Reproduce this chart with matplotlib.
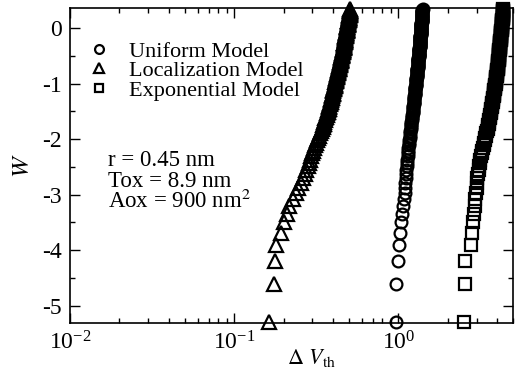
import matplotlib
matplotlib.use("Agg")
import matplotlib.pyplot as plt
import numpy as np
from matplotlib.ticker import MultipleLocator, LogLocator

plt.rcParams['font.family'] = ['Liberation Serif', 'DejaVu Serif']
plt.rcParams['mathtext.fontset'] = 'stix'
plt.rcParams['axes.unicode_minus'] = False

# Weibull plot of threshold voltage shift, 200 samples per model
n_samples = 200
rank = np.arange(1, 153)
F = rank / (n_samples + 1)
W = np.log(-np.log(1 - F))

# Delta Vth for each rank
dvth_uniform = [
    0.975, 0.972, 0.996, 1.004, 1.018, 1.033, 1.053, 1.068, 1.083, 1.092,
    1.097, 1.103, 1.108, 1.113, 1.119, 1.124, 1.129, 1.134, 1.140, 1.145,
    1.150, 1.154, 1.159, 1.163, 1.168, 1.172, 1.177, 1.181, 1.186, 1.190,
    1.194, 1.197, 1.201, 1.204, 1.208, 1.212, 1.215, 1.219, 1.222, 1.226,
    1.229, 1.232, 1.234, 1.237, 1.240, 1.243, 1.246, 1.248, 1.251, 1.254,
    1.256, 1.258, 1.261, 1.263, 1.265, 1.267, 1.269, 1.272, 1.274, 1.276,
    1.278, 1.280, 1.282, 1.284, 1.287, 1.289, 1.291, 1.293, 1.295, 1.297,
    1.299, 1.300, 1.302, 1.304, 1.306, 1.307, 1.309, 1.311, 1.312, 1.314,
    1.316, 1.317, 1.319, 1.320, 1.322, 1.324, 1.325, 1.327, 1.328, 1.330,
    1.332, 1.333, 1.335, 1.336, 1.338, 1.339, 1.341, 1.342, 1.344, 1.345,
    1.346, 1.348, 1.349, 1.350, 1.352, 1.353, 1.354, 1.355, 1.357, 1.358,
    1.359, 1.360, 1.362, 1.363, 1.364, 1.365, 1.366, 1.368, 1.369, 1.370,
    1.371, 1.372, 1.373, 1.374, 1.376, 1.377, 1.378, 1.379, 1.380, 1.381,
    1.382, 1.383, 1.384, 1.385, 1.387, 1.388, 1.389, 1.390, 1.391, 1.392,
    1.393, 1.394, 1.396, 1.397, 1.398, 1.399, 1.400, 1.401, 1.403, 1.404,
    1.405, 1.406,
]
dvth_local = [
    0.163, 0.175, 0.178, 0.180, 0.194, 0.202, 0.211, 0.217, 0.229, 0.237,
    0.246, 0.255, 0.262, 0.270, 0.275, 0.281, 0.286, 0.290, 0.295, 0.299,
    0.304, 0.308, 0.313, 0.317, 0.322, 0.326, 0.331, 0.335, 0.340, 0.344,
    0.347, 0.350, 0.352, 0.355, 0.358, 0.360, 0.363, 0.366, 0.368, 0.371,
    0.373, 0.376, 0.378, 0.380, 0.382, 0.384, 0.387, 0.389, 0.391, 0.393,
    0.395, 0.397, 0.398, 0.400, 0.402, 0.403, 0.405, 0.407, 0.408, 0.410,
    0.412, 0.413, 0.414, 0.416, 0.417, 0.419, 0.420, 0.422, 0.423, 0.425,
    0.426, 0.427, 0.429, 0.430, 0.432, 0.433, 0.434, 0.436, 0.437, 0.438,
    0.440, 0.441, 0.442, 0.443, 0.445, 0.446, 0.447, 0.448, 0.450, 0.451,
    0.452, 0.453, 0.455, 0.456, 0.457, 0.458, 0.459, 0.461, 0.462, 0.463,
    0.464, 0.465, 0.466, 0.467, 0.468, 0.468, 0.469, 0.470, 0.471, 0.472,
    0.473, 0.474, 0.475, 0.476, 0.477, 0.477, 0.478, 0.479, 0.480, 0.481,
    0.482, 0.483, 0.484, 0.485, 0.486, 0.487, 0.487, 0.488, 0.489, 0.490,
    0.491, 0.492, 0.493, 0.494, 0.495, 0.496, 0.497, 0.498, 0.499, 0.500,
    0.501, 0.502, 0.503, 0.504, 0.505, 0.506, 0.507, 0.508, 0.508, 0.509,
    0.510, 0.511,
]
dvth_expo = [
    2.52, 2.54, 2.56, 2.76, 2.81, 2.85, 2.90, 2.92, 2.95, 2.98,
    3.00, 3.02, 3.04, 3.07, 3.09, 3.11, 3.13, 3.16, 3.20, 3.23,
    3.26, 3.28, 3.31, 3.34, 3.37, 3.39, 3.42, 3.45, 3.48, 3.50,
    3.52, 3.53, 3.55, 3.57, 3.59, 3.60, 3.62, 3.64, 3.65, 3.67,
    3.68, 3.70, 3.71, 3.72, 3.74, 3.75, 3.76, 3.77, 3.79, 3.80,
    3.81, 3.82, 3.83, 3.84, 3.85, 3.86, 3.87, 3.88, 3.89, 3.90,
    3.91, 3.92, 3.92, 3.93, 3.94, 3.95, 3.96, 3.96, 3.97, 3.98,
    3.99, 4.00, 4.00, 4.01, 4.02, 4.03, 4.04, 4.04, 4.05, 4.06,
    4.06, 4.07, 4.07, 4.08, 4.08, 4.09, 4.09, 4.10, 4.10, 4.11,
    4.11, 4.12, 4.12, 4.13, 4.13, 4.13, 4.14, 4.14, 4.15, 4.15,
    4.15, 4.16, 4.16, 4.17, 4.17, 4.17, 4.18, 4.18, 4.19, 4.19,
    4.20, 4.20, 4.21, 4.21, 4.22, 4.22, 4.23, 4.23, 4.24, 4.24,
    4.24, 4.25, 4.25, 4.26, 4.26, 4.26, 4.27, 4.27, 4.28, 4.28,
    4.28, 4.29, 4.29, 4.30, 4.30, 4.30, 4.31, 4.31, 4.32, 4.32,
    4.32, 4.33, 4.33, 4.34, 4.34, 4.34, 4.35, 4.35, 4.36, 4.36,
    4.37, 4.37,
]

labels = ["Uniform Model", "Localization Model", "Exponential Model"]
info_lines = ["r = 0.45 nm", "Tox = 8.9 nm", "Aox = 900 nm$^2$"]

fig = plt.figure(figsize=(5.15, 3.7), dpi=100)
ax = fig.add_axes([0.136, 0.127, 0.860, 0.851])

ax.plot(dvth_uniform, W, ls='none', marker='o', ms=8.5, mfc='none', mec='k',
        mew=1.6, clip_on=False, label=labels[0])
ax.plot(dvth_local, W, ls='none', marker='^', ms=9.5, mfc='none', mec='k',
        mew=1.6, clip_on=False, label=labels[1])
ax.plot(dvth_expo, W, ls='none', marker='s', ms=8.0, mfc='none', mec='k',
        mew=1.6, clip_on=False, label=labels[2])

ax.set_xscale('log')
ax.set_xlim(0.01, 5)
ax.set_ylim(-5.31, 0.36)
ax.yaxis.set_major_locator(MultipleLocator(1))
ax.yaxis.set_minor_locator(MultipleLocator(0.5))
ax.xaxis.set_major_locator(LogLocator(base=10))
ax.xaxis.set_minor_locator(LogLocator(base=10, subs=np.arange(2, 10)))

ax.tick_params(which='both', direction='in', top=True, right=True, width=1.0,
               labelsize=17)
ax.tick_params(which='major', length=7, pad=6)
ax.tick_params(which='minor', length=3.5)
for sp in ax.spines.values():
    sp.set_linewidth(1.2)

ax.set_ylabel('$W$', fontsize=18, labelpad=6)
ax.set_xlabel(r'$\Delta\ V_{\rm th}$', fontsize=16, labelpad=0)
ax.xaxis.set_label_coords(0.545, -0.075)

leg = ax.legend(loc='upper left', bbox_to_anchor=(0.04, 0.895), frameon=False,
                fontsize=16, handlelength=1.0, handletextpad=0.85,
                labelspacing=-0.05, borderpad=0, borderaxespad=0,
                markerscale=0.75)

for i, line in enumerate(info_lines):
    ax.text(0.086, 0.515 - i * 0.064, line, transform=ax.transAxes,
            fontsize=16.5, va='center', ha='left')

fig.savefig("out.png", dpi=100)
